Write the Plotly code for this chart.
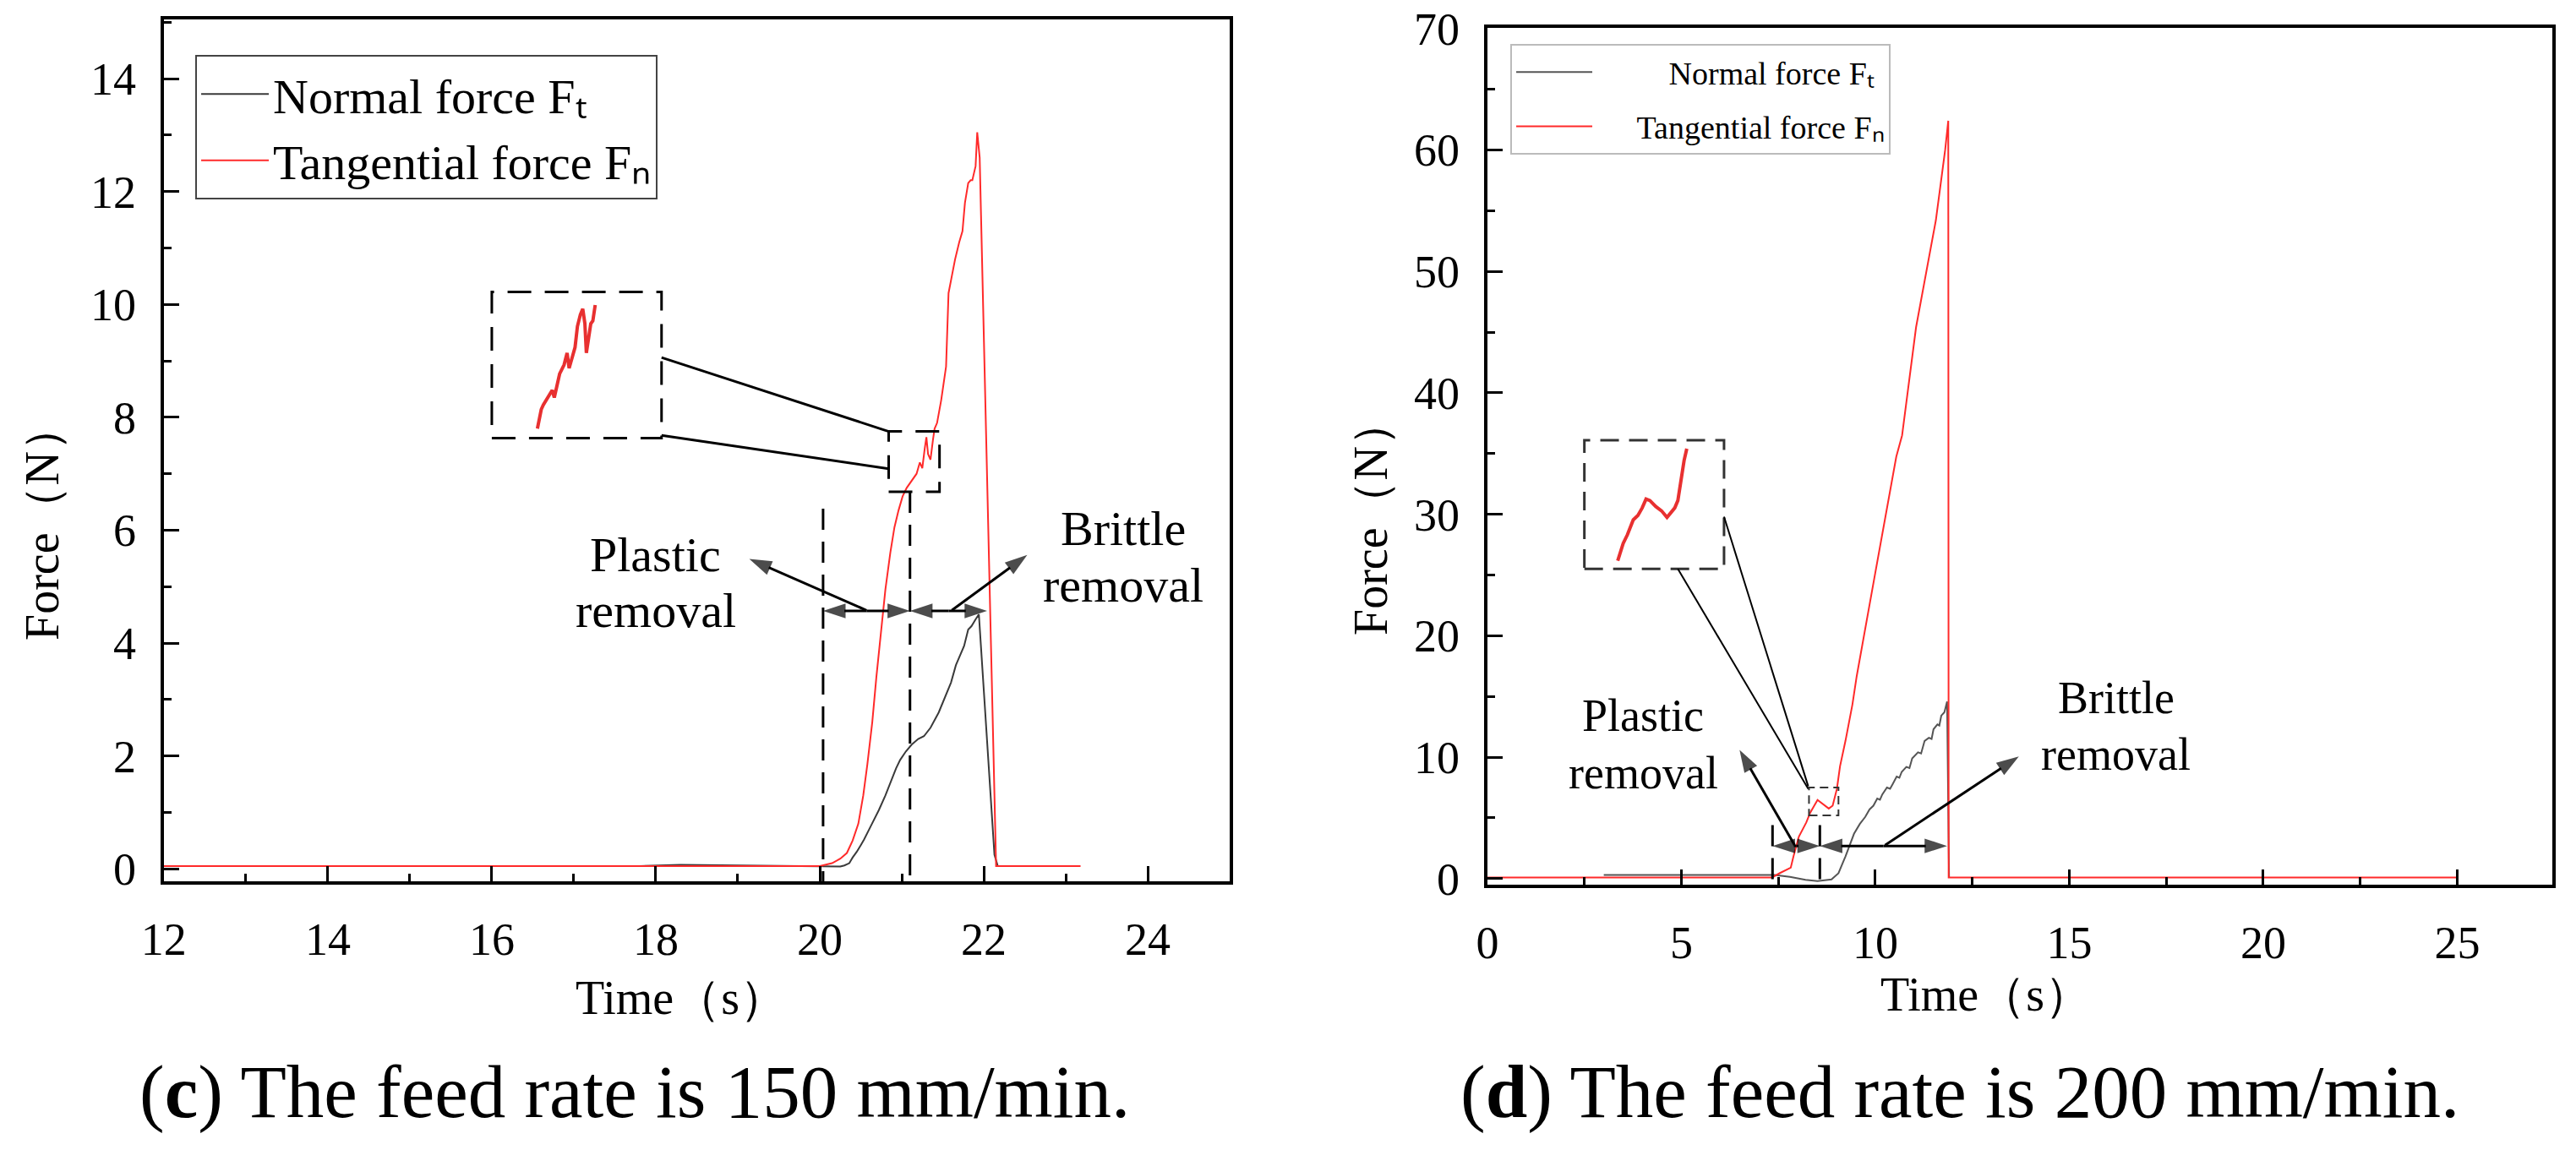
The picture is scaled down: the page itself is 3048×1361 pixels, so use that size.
"""Cutting force vs time for two feed rates (150 and 200 mm/min)."""

import plotly.graph_objects as go

# ---- data: feed rate 150 mm/min (panel c) ----
c_normal_t = [12.0, 17.8, 18.3, 20.0, 20.18, 20.25, 20.3, 20.36, 20.4, 20.45, 20.5, 20.54,
              20.63, 20.72, 20.8, 20.87, 20.93, 20.98, 21.05, 21.12, 21.2, 21.27, 21.35,
              21.45, 21.5, 21.56, 21.6, 21.66, 21.7, 21.76, 21.81, 21.85, 21.9, 21.94,
              22.13, 22.17]
c_normal_f = [0.05, 0.05, 0.07, 0.05, 0.05, 0.04, 0.06, 0.1, 0.2, 0.3, 0.42, 0.52,
              0.78, 1.04, 1.3, 1.57, 1.78, 1.93, 2.08, 2.2, 2.3, 2.35, 2.5,
              2.77, 2.95, 3.14, 3.3, 3.61, 3.75, 3.95, 4.24, 4.3, 4.42, 4.51,
              0.25, 0.05]

c_tangential_t = [12.0, 20.0, 20.15, 20.25, 20.33, 20.4, 20.47, 20.53, 20.58, 20.64, 20.69,
                  20.75, 20.8, 20.86, 20.91, 20.96, 21.01, 21.06, 21.12, 21.18, 21.22,
                  21.25, 21.28, 21.3, 21.32, 21.35, 21.38, 21.4, 21.43, 21.48, 21.54,
                  21.57, 21.61, 21.65, 21.7, 21.74, 21.77, 21.81, 21.84, 21.86, 21.9,
                  21.92, 21.95, 21.97, 22.04, 22.15, 23.18]
c_tangential_f = [0.05, 0.05, 0.1, 0.18, 0.28, 0.5, 0.8, 1.3, 1.85, 2.6, 3.4,
                  4.2, 4.95, 5.6, 6.05, 6.35, 6.6, 6.75, 6.87, 7.0, 7.2,
                  7.1, 7.45, 7.65, 7.35, 7.25, 7.6, 7.8, 7.9, 8.3, 8.9,
                  10.2, 10.5, 10.8, 11.1, 11.3, 11.8, 12.15, 12.2, 12.2, 12.45,
                  13.05, 12.6, 11.3, 6.7, 0.05, 0.05]

# magnified detail drawn inside the dashed inset box
c_inset_t = [16.556, 16.603, 16.628, 16.701, 16.737, 16.762, 16.791, 16.827, 16.881, 16.918,
             16.943, 16.972, 17.015, 17.044, 17.08, 17.109, 17.135, 17.153, 17.181, 17.207,
             17.232, 17.261]
c_inset_f = [7.8, 8.14, 8.22, 8.38, 8.48, 8.35, 8.56, 8.77, 8.93, 9.14,
             8.87, 9.03, 9.24, 9.61, 9.82, 9.92, 9.66, 9.14, 9.4, 9.66,
             9.71, 9.99]

# ---- data: feed rate 200 mm/min (panel d) ----
d_normal_t = [3.0, 7.4, 7.8, 8.2, 8.51, 8.87, 9.05, 9.23, 9.45, 9.6, 9.74, 9.85, 9.95, 10.05,
              10.12, 10.18, 10.3, 10.38, 10.45, 10.55, 10.62, 10.68, 10.8, 10.88, 10.95,
              11.1, 11.18, 11.27, 11.38, 11.45, 11.5, 11.6, 11.65, 11.7, 11.78, 11.85, 11.9]
d_normal_f = [0.3, 0.3, 0.15, -0.1, -0.2, -0.07, 0.44, 1.83, 3.69, 4.5, 5.08, 5.7, 6.0, 6.6,
              6.5, 6.93, 7.5, 7.4, 7.8, 8.4, 8.3, 8.79, 9.2, 9.1, 9.9,
              10.4, 10.3, 11.34, 11.6, 11.5, 12.3, 12.7, 12.6, 13.42, 13.7, 14.58, 0.1]

d_tangential_t = [0.0, 7.34, 7.53, 7.82, 7.89, 8.03, 8.22, 8.32, 8.51, 8.65, 8.8, 8.9, 9.01,
                  9.09, 9.23, 9.41, 9.52, 10.0, 10.54, 10.69, 11.05, 11.56, 11.8, 11.88,
                  11.89, 25.0]
d_tangential_f = [0.1, 0.1, 0.44, 0.9, 1.83, 3.46, 4.62, 5.42, 6.47, 6.1, 5.77, 6.01, 7.4,
                  9.25, 11.34, 14.35, 16.67, 25.2, 34.74, 36.5, 45.4, 54.2, 60.0, 62.4,
                  0.1, 0.1]

d_inset_t = [3.36, 3.42, 3.5, 3.61, 3.69, 3.76, 3.88, 3.99, 4.09, 4.19, 4.34, 4.49, 4.63,
             4.74, 4.83, 4.91, 4.95, 5.01, 5.07, 5.14]
d_inset_f = [26.17, 26.86, 27.59, 28.32, 28.94, 29.54, 29.91, 30.52, 31.25, 31.13, 30.64,
             30.28, 29.74, 30.15, 30.52, 31.13, 31.98, 33.21, 34.42, 35.4]

series_names = ["Normal force F\u209c", "Tangential force F\u2099"]

SERIF = "Liberation Serif"
RED = "#ff2a2a"
NB = "\u00a0"

fig = go.Figure()

# panel (c)
fig.add_trace(go.Scatter(x=c_normal_t, y=c_normal_f, mode="lines", name=series_names[0],
                         line=dict(color="#3a3a3a", width=2), xaxis="x", yaxis="y", legend="legend"))
fig.add_trace(go.Scatter(x=c_tangential_t, y=c_tangential_f, mode="lines", name=series_names[1],
                         line=dict(color=RED, width=2), xaxis="x", yaxis="y", legend="legend"))
fig.add_trace(go.Scatter(x=c_inset_t, y=c_inset_f, mode="lines", showlegend=False,
                         line=dict(color="#e83030", width=4), xaxis="x", yaxis="y"))

# panel (d)
fig.add_trace(go.Scatter(x=d_normal_t, y=d_normal_f, mode="lines", name=NB * 9 + series_names[0],
                         line=dict(color="#555555", width=2), xaxis="x2", yaxis="y2",
                         legend="legend2", legendgroup="d_normal"))
fig.add_trace(go.Scatter(x=d_tangential_t, y=d_tangential_f, mode="lines",
                         name=NB * 5 + series_names[1],
                         line=dict(color=RED, width=2), xaxis="x2", yaxis="y2",
                         legend="legend2", legendgroup="d_tangential"))
fig.add_trace(go.Scatter(x=d_inset_t, y=d_inset_f, mode="lines", showlegend=False,
                         line=dict(color="#e83030", width=4), xaxis="x2", yaxis="y2"))


def add_arrow(xa, ya, tail, head):
    """Black arrow from tail to head, head drawn as an oriented marker."""
    fig.add_trace(go.Scatter(
        x=[tail[0], head[0]], y=[tail[1], head[1]], mode="lines+markers",
        line=dict(color="black", width=3),
        marker=dict(symbol="arrow", size=[0, 28], angleref="previous", color="black",
                    line=dict(width=0)),
        xaxis=xa, yaxis=ya, showlegend=False, hoverinfo="skip"))


def add_double_arrow(xa, ya, left, right, y):
    mid = (left + right) / 2
    add_arrow(xa, ya, (mid, y), (left, y))
    add_arrow(xa, ya, (mid, y), (right, y))


# panel (c) arrows
add_double_arrow("x", "y", 20.04, 21.1, 4.57)
add_double_arrow("x", "y", 21.1, 22.04, 4.57)
add_arrow("x", "y", (20.57, 4.58), (19.14, 5.49))
add_arrow("x", "y", (21.61, 4.58), (22.53, 5.56))
# panel (d) arrows
add_double_arrow("x2", "y2", 7.35, 8.57, 2.69)
add_double_arrow("x2", "y2", 8.57, 11.85, 2.69)
add_arrow("x2", "y2", (7.92, 2.76), (6.5, 10.6))
add_arrow("x2", "y2", (10.25, 2.76), (13.7, 10.06))

axis_common = dict(
    showline=True, linewidth=4, linecolor="black", mirror=True,
    ticks="inside", ticklen=18, tickwidth=3, tickcolor="black",
    showgrid=False, zeroline=False, automargin=False,
    tickfont=dict(family=SERIF, size=54, color="black"),
    ticklabelstandoff=18,
)


def minor(step):
    return dict(ticks="inside", ticklen=9, tickwidth=3, dtick=step, tickcolor="black")


fig.update_layout(
    template="none",
    width=3048, height=1361,
    margin=dict(l=0, r=0, t=0, b=0, pad=0),
    paper_bgcolor="white", plot_bgcolor="white",
    font=dict(family=SERIF, color="black"),
    xaxis=dict(axis_common, domain=[0.0636, 0.4774], range=[12, 25], tick0=12, dtick=2,
               minor=minor(1)),
    yaxis=dict(axis_common, domain=[0.2337, 0.9831], range=[-0.22, 15.05], tick0=0, dtick=2,
               minor=minor(1)),
    xaxis2=dict(axis_common, domain=[0.5774, 0.9908], range=[0, 27.45], tick0=0, dtick=5,
                anchor="y2", minor=minor(2.5)),
    yaxis2=dict(axis_common, domain=[0.2307, 0.9758], range=[-0.5, 70.05], tick0=0, dtick=10,
                anchor="x2", minor=minor(5)),
    legend=dict(x=0.0758, y=0.9522, xanchor="left", yanchor="top",
                font=dict(family=SERIF, size=58, color="black"),
                bordercolor="#444444", borderwidth=2, bgcolor="white", itemwidth=80),
    legend2=dict(x=0.5863, y=0.9618, xanchor="left", yanchor="top",
                 font=dict(family=SERIF, size=38, color="black"),
                 bordercolor="#bbbbbb", borderwidth=2, bgcolor="white", itemwidth=90,
                 tracegroupgap=12),
)

DASH_V = "25px,14px"
DASH_BOX = "28px,16px"

shapes = [
    # panel (c): region limits
    dict(type="line", xref="x", yref="y", x0=20.04, x1=20.04, y0=6.38, y1=-0.22,
         line=dict(color="black", width=3, dash=DASH_V)),
    dict(type="line", xref="x", yref="y", x0=21.1, x1=21.1, y0=6.68, y1=-0.22,
         line=dict(color="black", width=3, dash=DASH_V)),
    # panel (c): zoom boxes and connectors
    dict(type="rect", xref="x", yref="y", x0=16.0, x1=18.07, y0=7.63, y1=10.22,
         line=dict(color="black", width=3, dash=DASH_BOX)),
    dict(type="rect", xref="x", yref="y", x0=20.84, x1=21.46, y0=6.68, y1=7.75,
         line=dict(color="black", width=3, dash=DASH_BOX)),
    dict(type="line", xref="x", yref="y", x0=18.07, y0=9.06, x1=20.84, y1=7.75,
         line=dict(color="black", width=3)),
    dict(type="line", xref="x", yref="y", x0=18.07, y0=7.68, x1=20.84, y1=7.09,
         line=dict(color="black", width=3)),
    # panel (d): region limits
    dict(type="line", xref="x2", yref="y2", x0=7.35, x1=7.35, y0=4.4, y1=-0.5,
         line=dict(color="black", width=3, dash=DASH_V)),
    dict(type="line", xref="x2", yref="y2", x0=8.57, x1=8.57, y0=4.4, y1=-0.5,
         line=dict(color="black", width=3, dash=DASH_V)),
    # panel (d): zoom boxes and connectors
    dict(type="rect", xref="x2", yref="y2", x0=2.5, x1=6.1, y0=25.5, y1=36.1,
         line=dict(color="#333333", width=3, dash="22px,12px")),
    dict(type="rect", xref="x2", yref="y2", x0=8.29, x1=9.05, y0=5.2, y1=7.5,
         line=dict(color="#333333", width=2, dash="10px,6px")),
    dict(type="line", xref="x2", yref="y2", x0=6.1, y0=29.8, x1=8.27, y1=7.6,
         line=dict(color="black", width=2)),
    dict(type="line", xref="x2", yref="y2", x0=4.91, y0=25.5, x1=8.27, y1=7.4,
         line=dict(color="black", width=2)),
]
fig.update_layout(shapes=shapes)

label_font = dict(family=SERIF, size=58, color="black")
label_font_d = dict(family=SERIF, size=54, color="black")
title_font = dict(family=SERIF, size=56, color="black")
caption_font = dict(family=SERIF, size=89, color="black")


def paper_text(x_px, y_px, text, font, angle=0):
    return dict(xref="paper", yref="paper", x=x_px / 3048, y=1 - y_px / 1361,
                xanchor="center", yanchor="middle", text=text, showarrow=False,
                font=font, textangle=angle)


def data_text(xa, ya, x, y, text, font):
    return dict(xref=xa, yref=ya, x=x, y=y, text=text, showarrow=False,
                font=font, align="center")


annotations = [
    data_text("x", "y", 18.0, 5.57, "Plastic", label_font),
    data_text("x", "y", 18.0, 4.57, "removal", label_font),
    data_text("x", "y", 23.7, 6.03, "Brittle", label_font),
    data_text("x", "y", 23.7, 5.03, "removal", label_font),
    data_text("x2", "y2", 4.02, 13.43, "Plastic", label_font_d),
    data_text("x2", "y2", 4.02, 8.7, "removal", label_font_d),
    data_text("x2", "y2", 16.2, 14.9, "Brittle", label_font_d),
    data_text("x2", "y2", 16.2, 10.2, "removal", label_font_d),
    # axis titles
    paper_text(806, 1181, "Time（s）", title_font),
    paper_text(2350, 1177, "Time（s）", title_font),
    paper_text(50, 618, "Force（N）", title_font, angle=-90),
    paper_text(1622, 612, "Force（N）", title_font, angle=-90),
    # captions
    paper_text(751, 1292, "(<b>c</b>) The feed rate is 150 mm/min.", caption_font),
    paper_text(2319, 1292, "(<b>d</b>) The feed rate is 200 mm/min.", caption_font),
]
fig.update_layout(annotations=annotations)

fig.write_html("out.html", config={"displayModeBar": False},
               post_script="document.body.style.margin='0';")
